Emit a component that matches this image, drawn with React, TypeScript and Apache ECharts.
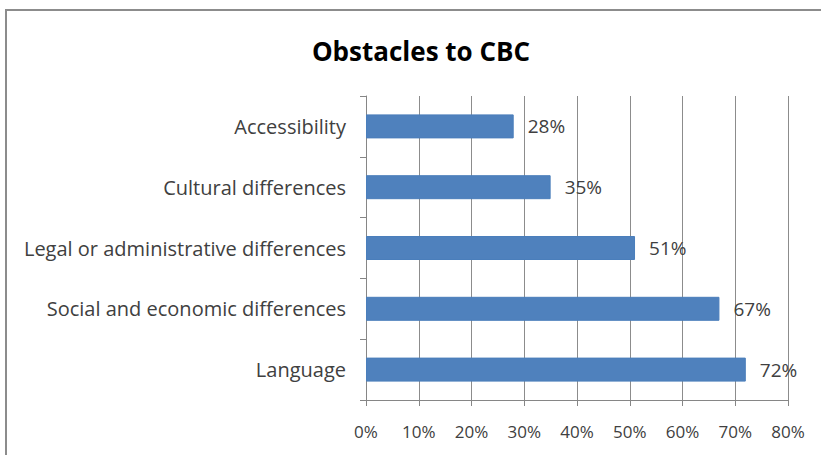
import React, { useEffect, useRef } from "react";
import * as echarts from "echarts";

const categories = [
  "Accessibility",
  "Cultural differences",
  "Legal or administrative differences",
  "Social and economic differences",
  "Language",
];
const values = [28, 35, 51, 67, 72];
const xTicks = [0, 10, 20, 30, 40, 50, 60, 70, 80];
const title = "Obstacles to CBC";

export default function App() {
  const ref = useRef<HTMLDivElement>(null);
  useEffect(() => {
    if (!ref.current) return;
    const chart = echarts.init(ref.current, null, { renderer: "svg" });
    const font = "'Open Sans', 'Noto Sans', sans-serif";
    chart.setOption({
      animation: false,
      backgroundColor: "#ffffff",
      title: {
        text: title,
        left: 416,
        textAlign: "center",
        top: 33,
        textStyle: { fontFamily: font, fontSize: 26, fontWeight: "bold", color: "#000" },
      },
      graphic: [
        {
          type: "rect",
          shape: { x: 6, y: 10, width: 900, height: 600 },
          style: { fill: "none", stroke: "#8c8c8c", lineWidth: 2 },
          silent: true,
        },
      ],
      grid: { left: 366, right: 33, top: 96, bottom: 55, containLabel: false },
      xAxis: {
        type: "value",
        min: xTicks[0],
        max: xTicks[xTicks.length - 1],
        interval: 10,
        axisLine: { show: true, lineStyle: { color: "#868686", width: 1 } },
        axisTick: { show: true, length: 6, lineStyle: { color: "#868686" } },
        splitLine: { show: true, lineStyle: { color: "#8c8c8c", width: 1 } },
        axisLabel: {
          formatter: (v: number) => v + "%",
          margin: 23,
          fontSize: 17,
          fontFamily: font,
          color: "#404040",
        },
      },
      yAxis: {
        type: "category",
        data: categories,
        inverse: true,
        axisLine: { show: true, lineStyle: { color: "#868686", width: 1 } },
        axisTick: { show: true, length: 6, lineStyle: { color: "#868686" } },
        axisLabel: {
          margin: 20,
          fontSize: 20,
          fontFamily: font,
          color: "#404040",
        },
      },
      series: [
        {
          type: "bar",
          data: values,
          barWidth: 24,
          itemStyle: { color: "#4f81bd", borderColor: "#4a7ebb", borderWidth: 1 },
          label: {
            show: true,
            position: "right",
            distance: 14,
            formatter: (p: any) => p.value + "%",
            fontSize: 19,
            fontFamily: font,
            color: "#404040",
          },
        },
      ],
    });
    return () => chart.dispose();
  }, []);
  return (
    <div
      ref={ref}
      style={{ position: "fixed", left: 0, top: 0, width: 821, height: 455 }}
    />
  );
}
